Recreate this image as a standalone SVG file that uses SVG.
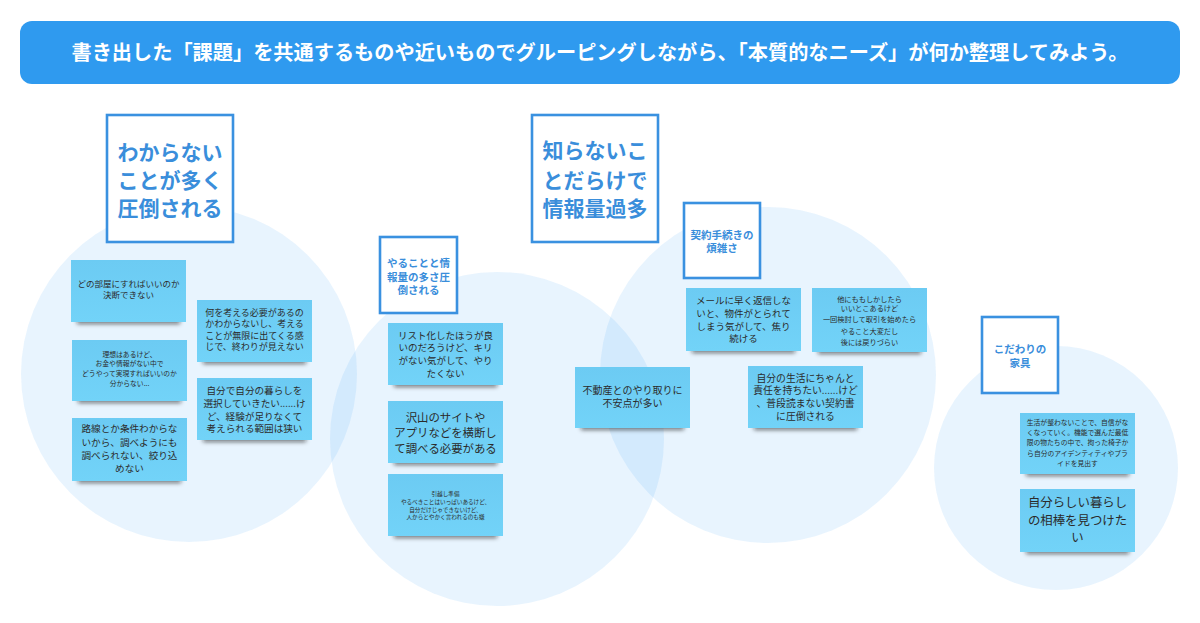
<svg xmlns="http://www.w3.org/2000/svg" width="1200" height="623" viewBox="0 0 1200 623">
<defs>
<filter id="blur" x="-20%" y="-100%" width="140%" height="300%"><feGaussianBlur stdDeviation="2.2"/></filter>
<linearGradient id="ng" x1="0" y1="0" x2="0" y2="1"><stop offset="0" stop-color="#6ccbf3"/><stop offset="1" stop-color="#72d3f8"/></linearGradient>
</defs>
<style>
text{font-family:"Noto Sans CJK JP","Noto Sans",sans-serif;text-anchor:middle}
.hdr{fill:#2f9aef}
.hdrt{fill:#fff;font-size:20.2px;font-weight:700}
.circ{fill:#2196f3;fill-opacity:0.1}
.tbox{fill:#fff;stroke:#3a91e0;stroke-width:2.6}
.tt{fill:#3a8edb;font-weight:700}
.big{font-size:21px}
.sm{font-size:10.5px}
.note{fill:url(#ng)}
.shd{fill:#1a1a1a;fill-opacity:0.55;filter:url(#blur)}
.nt{fill:#2b2b2b}
</style>
<rect width="1200" height="623" fill="#fff"/>
<g id="header">
<rect class="hdr" x="20" y="21" width="1160" height="63" rx="12"/>
<text class="hdrt" x="600" y="60">書き出した「課題」を共通するものや近いものでグルーピングしながら、「本質的なニーズ」が何か整理してみよう。</text>
</g>
<g id="groups">
<circle class="circ" cx="189" cy="374" r="168"/>
<circle class="circ" cx="497" cy="439" r="167"/>
<circle class="circ" cx="768" cy="375" r="168"/>
<circle class="circ" cx="1056" cy="468" r="122"/>
</g>
<g id="connectors"></g>
<g id="title-wakaranai">
<rect class="tbox" x="107" y="115" width="126" height="127"/>
<text class="tt big"><tspan x="170" y="160">わからない</tspan><tspan x="170" y="188">ことが多く</tspan><tspan x="170" y="216">圧倒される</tspan></text>
</g>
<g id="title-shiranai">
<rect class="tbox" x="532" y="115" width="126" height="127"/>
<text class="tt big"><tspan x="595" y="158">知らないこ</tspan><tspan x="595" y="188">とだらけで</tspan><tspan x="595" y="216">情報量過多</tspan></text>
</g>
<g id="title-yarukoto">
<rect class="tbox" x="380" y="237" width="77" height="76"/>
<text class="tt sm"><tspan x="418.5" y="267">やることと情</tspan><tspan x="418.5" y="281">報量の多さ圧</tspan><tspan x="418.5" y="294">倒される</tspan></text>
</g>
<g id="title-keiyaku">
<rect class="tbox" x="684" y="203" width="76" height="75"/>
<text class="tt sm"><tspan x="722" y="239">契約手続きの</tspan><tspan x="722" y="252">煩雑さ</tspan></text>
</g>
<g id="title-kodawari">
<rect class="tbox" x="982" y="317" width="76" height="76"/>
<text class="tt sm"><tspan x="1020" y="353">こだわりの</tspan><tspan x="1020" y="367">家具</tspan></text>
</g>

<g id="note-1">
<rect class="shd" x="77" y="316" width="103" height="8"/>
<rect class="note" x="71" y="260" width="115" height="62"/>
<text class="nt" font-size="8.5"><tspan x="128.5" y="287">どの部屋にすればいいのか</tspan><tspan x="128.5" y="298">決断できない</tspan></text>
</g>
<g id="note-2">
<rect class="shd" x="203" y="356" width="103" height="8"/>
<rect class="note" x="197" y="300" width="115" height="62"/>
<text class="nt" font-size="9"><tspan x="254.5" y="315.5">何を考える必要があるの</tspan><tspan x="254.5" y="327">かわからないし、考える</tspan><tspan x="254.5" y="338.5">ことが無限に出てくる感</tspan><tspan x="254.5" y="350">じで、終わりが見えない</tspan></text>
</g>
<g id="note-3">
<rect class="shd" x="78" y="395" width="103" height="8"/>
<rect class="note" x="72" y="340" width="115" height="61"/>
<text class="nt" font-size="6.8"><tspan x="129.5" y="356.5">理想はあるけど、</tspan><tspan x="129.5" y="366">お金や情報がない中で</tspan><tspan x="129.5" y="375.5">どうやって実現すればいいのか</tspan><tspan x="129.5" y="385.5">分からない...</tspan></text>
</g>
<g id="note-4">
<rect class="shd" x="203" y="434" width="103" height="8"/>
<rect class="note" x="197" y="378" width="115" height="62"/>
<text class="nt" font-size="9.6"><tspan x="254.5" y="393.5">自分で自分の暮らしを</tspan><tspan x="254.5" y="406.5">選択していきたい......け</tspan><tspan x="254.5" y="419.5">ど、経験が足りなくて</tspan><tspan x="254.5" y="432">考えられる範囲は狭い</tspan></text>
</g>
<g id="note-5">
<rect class="shd" x="78" y="475" width="103" height="8"/>
<rect class="note" x="72" y="418" width="115" height="63"/>
<text class="nt" font-size="9.6"><tspan x="129.5" y="431.5">路線とか条件わからな</tspan><tspan x="129.5" y="445.5">いから、調べようにも</tspan><tspan x="129.5" y="459">調べられない、絞り込</tspan><tspan x="129.5" y="472">めない</tspan></text>
</g>

<g id="note-6">
<rect class="shd" x="394" y="379" width="103" height="8"/>
<rect class="note" x="388" y="323" width="115" height="62"/>
<text class="nt" font-size="9.5"><tspan x="445.5" y="338.5">リスト化したほうが良</tspan><tspan x="445.5" y="351">いのだろうけど、キリ</tspan><tspan x="445.5" y="363.5">がない気がして、やり</tspan><tspan x="445.5" y="376.5">たくない</tspan></text>
</g>
<g id="note-7">
<rect class="shd" x="394" y="457" width="103" height="8"/>
<rect class="note" x="388" y="401" width="115" height="62"/>
<text class="nt" font-size="11.4"><tspan x="445.5" y="421.5">沢山のサイトや</tspan><tspan x="445.5" y="437">アプリなどを横断し</tspan><tspan x="445.5" y="452.5">て調べる必要がある</tspan></text>
</g>
<g id="note-8">
<rect class="shd" x="394" y="530" width="103" height="8"/>
<rect class="note" x="388" y="474" width="115" height="62"/>
<text class="nt" font-size="5.6"><tspan x="445.5" y="496">引越し準備</tspan><tspan x="445.5" y="504">やるべきことはいっぱいあるけど、</tspan><tspan x="445.5" y="511.5">自分だけじゃできないけど、</tspan><tspan x="445.5" y="519">人からとやかく言われるのも嫌</tspan></text>
</g>

<g id="note-9">
<rect class="shd" x="692" y="345" width="103" height="8"/>
<rect class="note" x="686" y="288" width="115" height="63"/>
<text class="nt" font-size="9.5"><tspan x="743.5" y="303.5">メールに早く返信しな</tspan><tspan x="743.5" y="316.5">いと、物件がとられて</tspan><tspan x="743.5" y="329.5">しまう気がして、焦り</tspan><tspan x="743.5" y="341.5">続ける</tspan></text>
</g>
<g id="note-10">
<rect class="shd" x="818" y="346" width="103" height="8"/>
<rect class="note" x="812" y="288" width="115" height="64"/>
<text class="nt" font-size="7.2"><tspan x="869.5" y="301.5">他にももしかしたら</tspan><tspan x="869.5" y="311">いいとこあるけど</tspan><tspan x="869.5" y="322">一回検討して取引を始めたら</tspan><tspan x="869.5" y="333.5">やること大変だし</tspan><tspan x="869.5" y="344.5">後には戻りづらい</tspan></text>
</g>
<g id="note-11">
<rect class="shd" x="581" y="422" width="103" height="8"/>
<rect class="note" x="575" y="367" width="115" height="61"/>
<text class="nt" font-size="10"><tspan x="632.5" y="393.8">不動産とのやり取りに</tspan><tspan x="632.5" y="406.8">不安点が多い</tspan></text>
</g>
<g id="note-12">
<rect class="shd" x="754" y="422" width="103" height="8"/>
<rect class="note" x="748" y="366" width="115" height="62"/>
<text class="nt" font-size="9.8"><tspan x="805.5" y="381.7">自分の生活にちゃんと</tspan><tspan x="805.5" y="393.7">責任を持ちたい......けど</tspan><tspan x="805.5" y="406.7">、普段読まない契約書</tspan><tspan x="805.5" y="419.7">に圧倒される</tspan></text>
</g>

<g id="note-13">
<rect class="shd" x="1026" y="468" width="103" height="8"/>
<rect class="note" x="1020" y="413" width="115" height="61"/>
<text class="nt" font-size="6.8"><tspan x="1077.5" y="424.5">生活が整わないことで、自信がな</tspan><tspan x="1077.5" y="434.5">くなっていく。機能で選んだ最低</tspan><tspan x="1077.5" y="445">限の物たちの中で、拘った椅子か</tspan><tspan x="1077.5" y="455.5">ら自分のアイデンティティやプラ</tspan><tspan x="1077.5" y="465.5">イドを見出す</tspan></text>
</g>
<g id="note-14">
<rect class="shd" x="1026" y="546" width="103" height="8"/>
<rect class="note" x="1020" y="489" width="115" height="63"/>
<text class="nt" font-size="12.4"><tspan x="1077.5" y="506.7">自分らしい暮らし</tspan><tspan x="1077.5" y="524.7">の相棒を見つけた</tspan><tspan x="1077.5" y="541.7">い</tspan></text>
</g>
</svg>
